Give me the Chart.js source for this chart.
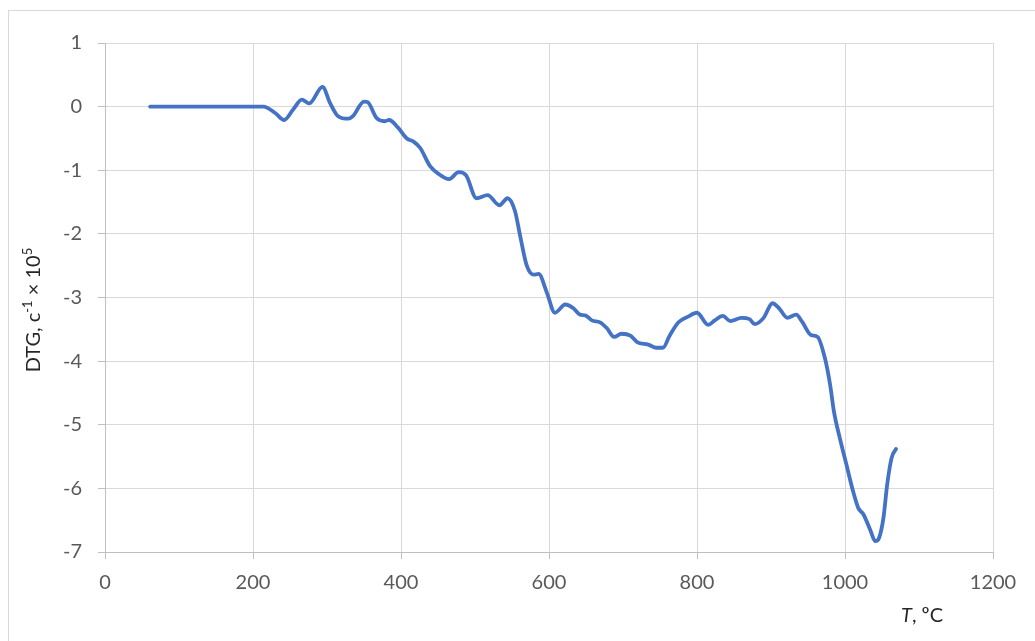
<!DOCTYPE html>
<html>
<head>
<meta charset="utf-8">
<script src="https://cdn.jsdelivr.net/npm/chart.js@4"></script>
<style>
  html, body { margin: 0; padding: 0; background: #ffffff; }
  #wrap { width: 1035px; height: 641px; }
</style>
</head>
<body>
<div id="wrap"><canvas id="dtgChart" width="1035" height="641"></canvas></div>
<script>
// Temperature, degC
const temps = [61, 100, 150, 200, 214, 230, 242, 254, 266, 276, 294, 304, 315, 329, 335, 350, 355, 367, 378, 384,
    396, 408, 417, 426, 439, 451, 465, 478, 488, 502, 517, 533, 544, 554, 561, 570, 579, 586, 597, 608,
    622, 633, 642, 649, 658, 669, 678, 688, 698, 710, 719, 734, 745, 754, 763, 775, 788, 800, 815, 824,
    835, 845, 860, 871, 878, 890, 902, 911, 922, 934, 942, 954, 963, 973, 980, 985, 993, 1002, 1011, 1018,
    1025, 1034, 1041, 1046, 1052, 1057, 1063, 1069];
// DTG values, c^-1 x 10^5
const dtg = [0, 0, 0, 0, 0, -0.1, -0.21, -0.05, 0.11, 0.05, 0.31, 0.06, -0.15, -0.19, -0.15, 0.08, 0.07, -0.18, -0.23, -0.21,
    -0.33, -0.5, -0.55, -0.65, -0.93, -1.06, -1.14, -1.03, -1.08, -1.44, -1.39, -1.55, -1.44, -1.64, -2.03, -2.5, -2.64, -2.63, -2.92, -3.24,
    -3.11, -3.17, -3.27, -3.28, -3.36, -3.39, -3.48, -3.62, -3.57, -3.6, -3.7, -3.74, -3.79, -3.79, -3.6, -3.39, -3.3, -3.24, -3.43, -3.36,
    -3.29, -3.37, -3.32, -3.34, -3.42, -3.32, -3.09, -3.17, -3.32, -3.27, -3.38, -3.59, -3.62, -3.96, -4.38, -4.79, -5.21, -5.63, -6.05, -6.31,
    -6.41, -6.65, -6.83, -6.78, -6.46, -5.94, -5.52, -5.38];
// axis ranges / ticks
const xTicks = [0, 200, 400, 600, 800, 1000, 1200];
const yTicks = [1, 0, -1, -2, -3, -4, -5, -6, -7];

const FONT = "Lato, 'Open Sans', sans-serif";

// outer border + axis titles drawn by hand (superscripts, italic T)
const decorPlugin = {
    id: "decor",
    beforeDraw(chart) {
        const ctx = chart.ctx;
        ctx.save();
        ctx.fillStyle = "#ffffff";
        ctx.fillRect(0, 0, chart.width, chart.height);
        ctx.strokeStyle = "#d9d9d9";
        ctx.lineWidth = 1;
        ctx.strokeRect(8.5, 10.5, 1100, 700);
        ctx.restore();
    },
    afterDraw(chart) {
        const ctx = chart.ctx;
        ctx.save();
        ctx.fillStyle = "#262626";
        ctx.textBaseline = "alphabetic";

        // y title, rotated
        const parts = [
            { t: "DTG, c", size: 20, dy: 0 },
            { t: "-1", size: 13, dy: -8 },
            { t: " \u00d7 10", size: 20, dy: 0 },
            { t: "5", size: 13, dy: -8 },
        ];
        let total = 0;
        parts.forEach(p => { ctx.font = p.size + "px " + FONT; p.w = ctx.measureText(p.t).width; total += p.w; });
        ctx.translate(40, 310);
        ctx.rotate(-Math.PI / 2);
        let x = -total / 2;
        parts.forEach(p => { ctx.font = p.size + "px " + FONT; ctx.fillText(p.t, x, p.dy); x += p.w; });
        ctx.setTransform(1, 0, 0, 1, 0, 0);

        // x title
        ctx.font = "italic 20px " + FONT;
        const tW = ctx.measureText("T").width;
        ctx.font = "20px " + FONT;
        const restW = ctx.measureText(", \u00baC").width;
        let sx = 922 - (tW + restW) / 2;
        ctx.font = "italic 20px " + FONT;
        ctx.fillText("T", sx, 622);
        ctx.font = "20px " + FONT;
        ctx.fillText(", \u00baC", sx + tW, 622);
        ctx.restore();
    }
};

const ctx = document.getElementById("dtgChart").getContext("2d");
const chart = new Chart(ctx, {
    type: "line",
    data: {
        datasets: [{
            label: "DTG",
            data: temps.map((t, i) => ({ x: t, y: dtg[i] })),
            borderColor: "#4472c4",
            borderWidth: 3.8,
            pointRadius: 0,
            fill: false,
            cubicInterpolationMode: "monotone",
            borderCapStyle: "round",
        }],
    },
    options: {
        responsive: false,
        animation: false,
        devicePixelRatio: 1,
        layout: { padding: { left: 0, top: 43, right: 42, bottom: 0 } },
        plugins: { legend: { display: false }, tooltip: { enabled: false } },
        scales: {
            x: {
                type: "linear",
                min: 0,
                max: 1200,
                afterBuildTicks: (s) => { s.ticks = xTicks.map(v => ({ value: v })); },
                afterFit: (s) => { s.height = 89; },
                grid: { color: "#d9d9d9", tickColor: "#bfbfbf", tickLength: 7, lineWidth: 1 },
                border: { color: "#bfbfbf", width: 1 },
                ticks: { color: "#595959", font: { family: FONT, size: 20 }, padding: 12, maxRotation: 0,
                    callback: (v) => String(v) },
            },
            y: {
                type: "linear",
                min: -7,
                max: 1,
                afterBuildTicks: (s) => { s.ticks = yTicks.map(v => ({ value: v })); },
                afterFit: (s) => { s.width = 105; },
                grid: { color: "#d9d9d9", tickColor: "#bfbfbf", tickLength: 7, lineWidth: 1 },
                border: { color: "#bfbfbf", width: 1 },
                ticks: { color: "#595959", font: { family: FONT, size: 20 }, padding: 16,
                    callback: (v) => String(v) },
            },
        },
    },
    plugins: [decorPlugin],
});
</script>
</body>
</html>
